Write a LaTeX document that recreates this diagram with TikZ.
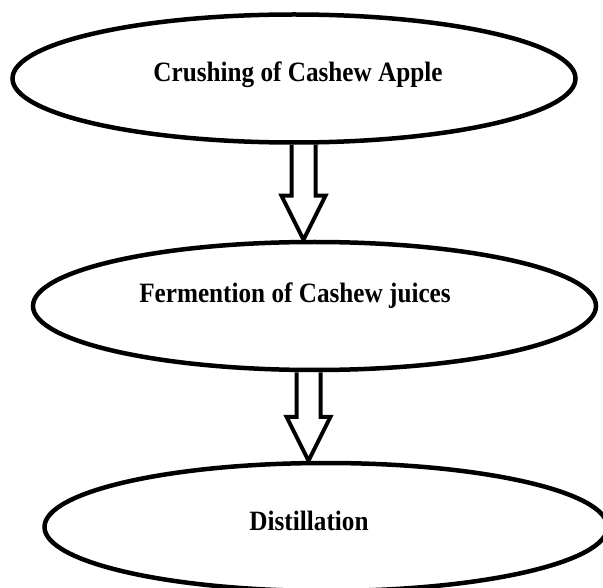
\documentclass[tikz,border=0pt]{standalone}
\usepackage{fontspec}
\setmainfont{Liberation Serif}[FakeStretch=0.9]
\usepackage{tikz}
\usetikzlibrary{shapes.geometric, calc}
\tikzstyle{stage} = [ellipse, draw=black, line width=4.5pt, minimum width=563pt, minimum height=128pt, inner sep=0pt]
\tikzstyle{stagetext} = [anchor=base, inner sep=0pt, font=\bfseries\fontsize{28}{32}\selectfont]
\tikzstyle{flow} = [line width=4pt, black, line join=miter]
% hollow block arrow: #1 = shaft top, #2 = tip
\newcommand{\flowarrow}[2]{%
  \draw[flow] ($(#1)+(-12,0)$) -- ($(#2)+(-12,-44)$) -- ($(#2)+(-22,-44)$) -- (#2)
    -- ($(#2)+(22,-44)$) -- ($(#2)+(12,-44)$) -- ($(#1)+(12,0)$);}

\begin{document}
\begin{tikzpicture}[x=1pt, y=-1pt]
  \useasboundingbox (0,0) rectangle (603,588);

  % Stages
  \node[stage] (crush) at (294,78.5) {};
  \node[stage] (ferment) at (314.5,306) {};
  \node[stage] (distil) at (326,527) {};

  \node[stagetext] (crushtxt) at ($(crush)+(4,3.5)$) {Crushing of Cashew Apple};
  \node[stagetext] (fermenttxt) at ($(ferment)+(-19.5,-3)$) {Fermention of Cashew juices};
  \node[stagetext] (distiltxt) at ($(distil)+(-17,3)$) {Distillation};

  % Arrows
  \path (crush.south) ++(9.5,0) coordinate (a1top);
  \path (ferment.north) ++(-11,0) coordinate (a1tip);
  \path (ferment.south) ++(-6,0) coordinate (a2top);
  \path (distil.north) ++(-17.5,0) coordinate (a2tip);
  \flowarrow{a1top}{a1tip}
  \flowarrow{a2top}{a2tip}
\end{tikzpicture}
\end{document}
